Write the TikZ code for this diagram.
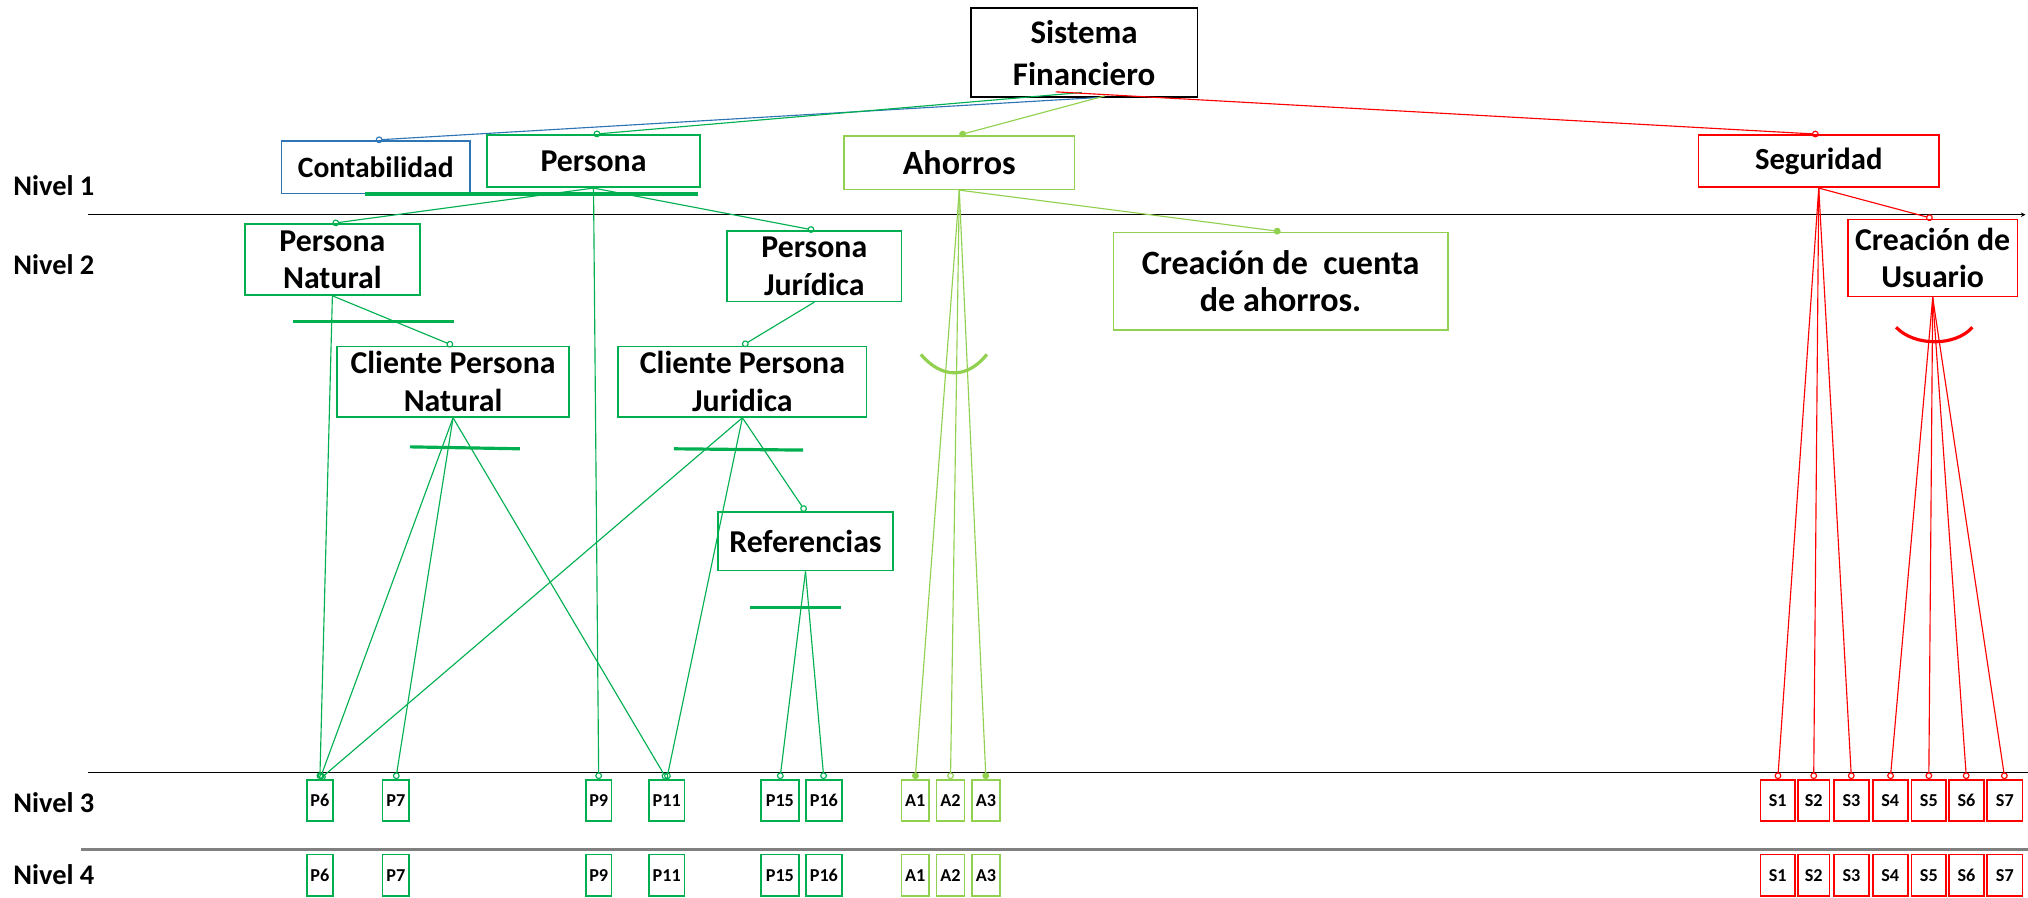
\documentclass[tikz,border=0pt]{standalone}
\usepackage{fontspec}
\setmainfont{Carlito}
\usepackage{tikz}
\usetikzlibrary{arrows.meta}
\definecolor{azul}{RGB}{46,117,182}
\definecolor{verde}{RGB}{0,176,80}
\definecolor{verdeclaro}{RGB}{146,208,80}
\definecolor{rojo}{RGB}{255,0,0}
\tikzset{
	>={Circle[open,length=3pt]}, % small open circle at the child end
	caja/.style={draw, line width=0.7pt, inner sep=0pt, align=center, font=\fontsize{14}{16.5}\selectfont\bfseries}, % feature boxes
	hoja/.style={draw, line width=0.7pt, inner sep=0pt, minimum height=6.4mm, font=\fontsize{8}{9}\selectfont\bfseries}, % boxes of level 3 and 4
	nivel/.style={anchor=base west, inner sep=0pt, font=\fontsize{12.5}{15}\selectfont\bfseries}, % level names
	rama/.style={line width=0.5pt, ->}, % optional link
	ramallena/.style={line width=0.5pt, -{Circle[length=3pt]}}, % mandatory link
	barra/.style={line width=1.4pt}, % group marks
}

\begin{document}
\begin{tikzpicture}[x=0.2mm, y=-0.2mm]
	\useasboundingbox (0,0) rectangle (1568,694);

	\node[nivel] (nivel1) at (10,150.8) {Nivel 1};
	\node[nivel] (nivel2) at (10,212.6) {Nivel 2};
	\node[nivel] (nivel3) at (10,628) {Nivel 3};
	\node[nivel] (nivel4) at (10,683.5) {Nivel 4};

	\draw[line width=0.5pt, -{Stealth[length=2pt,width=2pt]}] (68,166) -- (1566,166);
	\draw[line width=0.6pt] (68,597.5) -- (1568,597.5);
	\draw[line width=1.2pt, black!50] (63,656.7) -- (1568,656.7);

	\node[caja, draw=black, minimum width=35.04mm, minimum height=13.76mm, font=\fontsize{14.5}{18.3}\selectfont\bfseries] (sistema) at (838.2,40.8) {Sistema\\Financiero};

	\node[caja, draw=azul, minimum width=29.18mm, minimum height=8.14mm, font=\fontsize{13}{15}\selectfont\bfseries] (contabilidad) at (290.5,129.2) {Contabilidad};
	\node[caja, draw=verde, minimum width=32.98mm, minimum height=8.08mm] (persona) at (458.9,124.6) {Persona};
	\node[caja, draw=verdeclaro, minimum width=35.68mm, minimum height=8.28mm, font=\fontsize{15}{17}\selectfont\bfseries] (ahorros) at (741.7,125.7) {Ahorros};
	\node[caja, draw=rojo, minimum width=37.22mm, minimum height=8.08mm, font=\fontsize{13.5}{16}\selectfont\bfseries] (seguridad) at (1406.2,124.6) {Seguridad};

	\node[caja, draw=verde, minimum width=27.02mm, minimum height=10.96mm] (pnatural) at (257,200.7) {Persona\\Natural};
	\node[caja, draw=verde, minimum width=26.94mm, minimum height=10.88mm] (pjuridica) at (629.6,205.8) {Persona\\Jurídica};
	\node[caja, draw=verdeclaro, minimum width=51.7mm, minimum height=15.1mm, font=\fontsize{15}{16.5}\selectfont\bfseries] (cuenta) at (990.1,217.4) {Creación de\ \ cuenta\\de ahorros.};
	\node[caja, draw=rojo, minimum width=26.26mm, minimum height=11.96mm] (usuario) at (1494.3,199.5) {Creación de\\Usuario};
	\node[caja, draw=verde, minimum width=35.9mm, minimum height=10.92mm] (cnatural) at (350.3,295.1) {Cliente Persona\\Natural};
	\node[caja, draw=verde, minimum width=38.4mm, minimum height=10.92mm] (cjuridica) at (574,295.1) {Cliente Persona\\Juridica};
	\node[caja, draw=verde, minimum width=27.14mm, minimum height=9.02mm] (referencias) at (622.8,418.6) {Referencias};

	\node[hoja, draw=verde, minimum width=4.04mm] (p6) at (247.3,619) {P6};
	\node[hoja, draw=verde, minimum width=4.14mm] (p7) at (306,619) {P7};
	\node[hoja, draw=verde, minimum width=3.96mm] (p9) at (462.9,619) {P9};
	\node[hoja, draw=verde, minimum width=5.48mm] (p11) at (515.5,619) {P11};
	\node[hoja, draw=verde, minimum width=5.9mm] (p15) at (603,619) {P15};
	\node[hoja, draw=verde, minimum width=5.6mm] (p16) at (637,619) {P16};
	\node[hoja, draw=verdeclaro, minimum width=4.26mm] (a1) at (707.6,619) {A1};
	\node[hoja, draw=verdeclaro, minimum width=4.34mm] (a2) at (734.9,619) {A2};
	\node[hoja, draw=verdeclaro, minimum width=4.36mm] (a3) at (762.3,619) {A3};
	\node[hoja, draw=rojo, minimum width=5.4mm] (s1) at (1374.5,619) {S1};
	\node[hoja, draw=rojo, minimum width=4.92mm] (s2) at (1402.3,619) {S2};
	\node[hoja, draw=rojo, minimum width=5.4mm] (s3) at (1431.5,619) {S3};
	\node[hoja, draw=rojo, minimum width=5.4mm] (s4) at (1461.5,619) {S4};
	\node[hoja, draw=rojo, minimum width=5.4mm] (s5) at (1491.3,619) {S5};
	\node[hoja, draw=rojo, minimum width=5.34mm] (s6) at (1520.4,619) {S6};
	\node[hoja, draw=rojo, minimum width=5.46mm] (s7) at (1550.1,619) {S7};

	\node[hoja, draw=verde, minimum width=4.04mm] (p6n4) at (247.3,676.8) {P6};
	\node[hoja, draw=verde, minimum width=4.14mm] (p7n4) at (306,676.8) {P7};
	\node[hoja, draw=verde, minimum width=3.96mm] (p9n4) at (462.9,676.8) {P9};
	\node[hoja, draw=verde, minimum width=5.48mm] (p11n4) at (515.5,676.8) {P11};
	\node[hoja, draw=verde, minimum width=5.9mm] (p15n4) at (603,676.8) {P15};
	\node[hoja, draw=verde, minimum width=5.6mm] (p16n4) at (637,676.8) {P16};
	\node[hoja, draw=verdeclaro, minimum width=4.26mm] (a1n4) at (707.6,676.8) {A1};
	\node[hoja, draw=verdeclaro, minimum width=4.34mm] (a2n4) at (734.9,676.8) {A2};
	\node[hoja, draw=verdeclaro, minimum width=4.36mm] (a3n4) at (762.3,676.8) {A3};
	\node[hoja, draw=rojo, minimum width=5.4mm] (s1n4) at (1374.5,676.8) {S1};
	\node[hoja, draw=rojo, minimum width=4.92mm] (s2n4) at (1402.3,676.8) {S2};
	\node[hoja, draw=rojo, minimum width=5.4mm] (s3n4) at (1431.5,676.8) {S3};
	\node[hoja, draw=rojo, minimum width=5.4mm] (s4n4) at (1461.5,676.8) {S4};
	\node[hoja, draw=rojo, minimum width=5.4mm] (s5n4) at (1491.3,676.8) {S5};
	\node[hoja, draw=rojo, minimum width=5.34mm] (s6n4) at (1520.4,676.8) {S6};
	\node[hoja, draw=rojo, minimum width=5.46mm] (s7n4) at (1550.1,676.8) {S7};

	\draw[rama, azul] ([xshift=2.46mm, yshift=0.1mm]sistema.south) -- (contabilidad.north);
	\draw[rama, verde] ([xshift=-0.34mm, yshift=0.86mm]sistema.south) -- (persona.north);
	\draw[ramallena, verdeclaro] ([xshift=3.22mm, yshift=0.34mm]sistema.south) -- (ahorros.north);
	\draw[rama, rojo] ([xshift=-4.4mm, yshift=0.96mm]sistema.south) -- (seguridad.north);

	\draw[rama, verde] (persona.south) -- (pnatural.north);
	\draw[rama, verde] (persona.south) -- (pjuridica.north);
	\draw[rama, verde] (persona.south) -- (p9.north);
	\draw[barra, verde] (282,150) -- (539.7,150);

	\draw[ramallena, verdeclaro] (ahorros.south) -- (cuenta.north);
	\draw[ramallena, verdeclaro] (ahorros.south) -- (a1.north);
	\draw[rama, verdeclaro] (ahorros.south) -- (a2.north);
	\draw[ramallena, verdeclaro] (ahorros.south) -- (a3.north);
	\draw[barra, verdeclaro] (712,274) .. controls (728,293) and (748,293) .. (763,274);

	\draw[rama, rojo] (seguridad.south) -- (usuario.north);
	\draw[rama, rojo] (seguridad.south) -- (s1.north);
	\draw[rama, rojo] (seguridad.south) -- (s2.north);
	\draw[rama, rojo] (seguridad.south) -- (s3.north);
	\draw[rama, rojo] (usuario.south) -- (s4.north);
	\draw[rama, rojo] (usuario.south) -- (s5.north);
	\draw[rama, rojo] (usuario.south) -- (s6.north);
	\draw[rama, rojo] (usuario.south) -- (s7.north);
	\draw[barra, rojo] (1466,253) .. controls (1480,268) and (1512,268) .. (1525,253);

	\draw[rama, verde] (pnatural.south) -- (cnatural.north);
	\draw[rama, verde] (pnatural.south) -- (p6.north);
	\draw[barra, verde] (226.4,248.5) -- (350.7,248.5);

	\draw[rama, verde] (pjuridica.south) -- (cjuridica.north);

	\draw[rama, verde] (cnatural.south) -- (p6.north);
	\draw[rama, verde] (cnatural.south) -- (p7.north);
	\draw[rama, verde] (cnatural.south) -- (p11.north);
	\draw[barra, verde] (317,345.5) -- (402,347);

	\draw[rama, verde] (cjuridica.south) -- (p6.north);
	\draw[rama, verde] (cjuridica.south) -- (p11.north);
	\draw[rama, verde] (cjuridica.south) -- (referencias.north);
	\draw[barra, verde] (521,347) -- (621,348);

	\draw[rama, verde] (referencias.south) -- (p15.north);
	\draw[rama, verde] (referencias.south) -- (p16.north);
	\draw[barra, verde] (580,469.5) -- (650,469.5);
\end{tikzpicture}
\end{document}
